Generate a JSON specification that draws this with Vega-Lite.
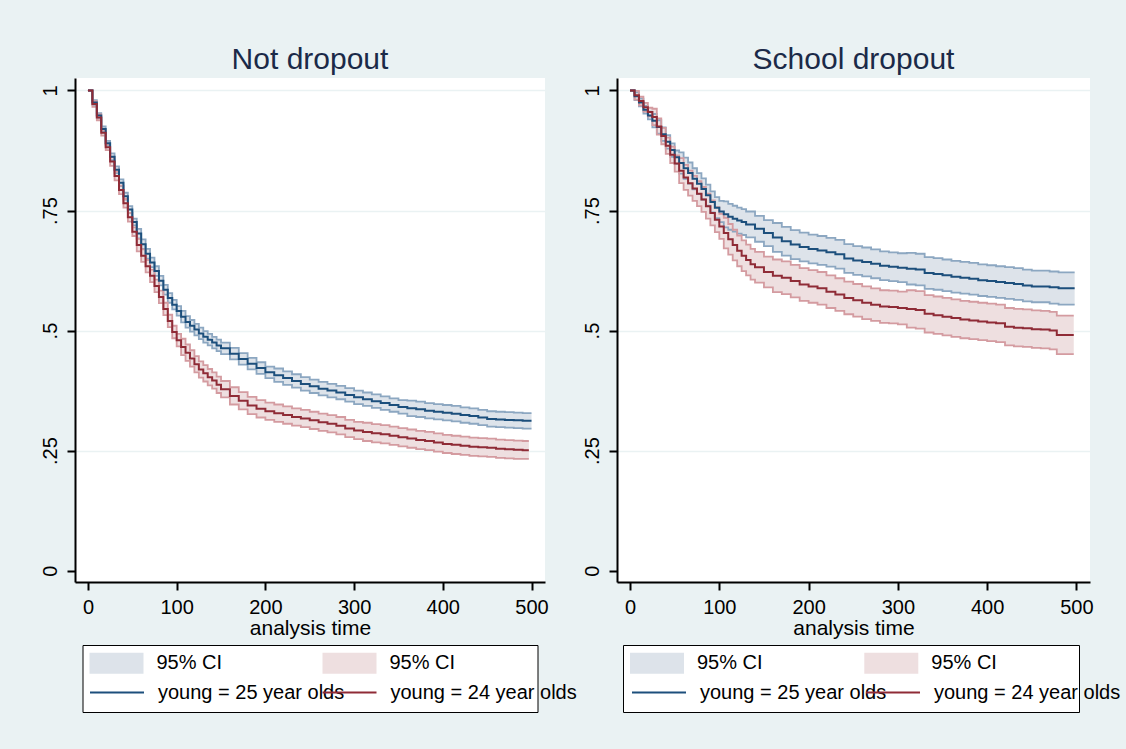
{
  "$schema": "https://vega.github.io/schema/vega-lite/v6.json",
  "background": "#eaf2f3",
  "padding": {"left": 40, "top": 45, "right": 6, "bottom": 37},
  "spacing": 72,
  "bounds": "flush",
  "datasets": {
    "nd25": [
      {"t":0,"s":1,"lo":1,"hi":1},{"t":5,"s":0.975,"lo":0.970,"hi":0.980},{"t":10,"s":0.948,"lo":0.943,"hi":0.953},{"t":15,"s":0.920,"lo":0.915,"hi":0.925},{"t":20,"s":0.890,"lo":0.885,"hi":0.895},
      {"t":25,"s":0.862,"lo":0.855,"hi":0.869},{"t":30,"s":0.835,"lo":0.828,"hi":0.842},{"t":35,"s":0.808,"lo":0.801,"hi":0.815},{"t":40,"s":0.780,"lo":0.773,"hi":0.787},{"t":45,"s":0.752,"lo":0.745,"hi":0.759},
      {"t":50,"s":0.726,"lo":0.719,"hi":0.733},{"t":55,"s":0.702,"lo":0.692,"hi":0.712},{"t":60,"s":0.680,"lo":0.670,"hi":0.690},{"t":65,"s":0.660,"lo":0.650,"hi":0.670},{"t":70,"s":0.642,"lo":0.632,"hi":0.652},
      {"t":75,"s":0.624,"lo":0.614,"hi":0.634},{"t":80,"s":0.604,"lo":0.594,"hi":0.614},{"t":85,"s":0.585,"lo":0.575,"hi":0.595},{"t":90,"s":0.568,"lo":0.558,"hi":0.578},{"t":95,"s":0.554,"lo":0.544,"hi":0.564},
      {"t":100,"s":0.541,"lo":0.531,"hi":0.551},{"t":105,"s":0.529,"lo":0.517,"hi":0.541},{"t":110,"s":0.518,"lo":0.506,"hi":0.530},{"t":115,"s":0.510,"lo":0.498,"hi":0.522},{"t":120,"s":0.502,"lo":0.490,"hi":0.514},
      {"t":125,"s":0.494,"lo":0.482,"hi":0.506},{"t":130,"s":0.487,"lo":0.475,"hi":0.499},{"t":135,"s":0.481,"lo":0.469,"hi":0.493},{"t":140,"s":0.475,"lo":0.463,"hi":0.487},{"t":145,"s":0.469,"lo":0.457,"hi":0.481},
      {"t":150,"s":0.463,"lo":0.451,"hi":0.475},{"t":160,"s":0.452,"lo":0.440,"hi":0.464},{"t":170,"s":0.441,"lo":0.429,"hi":0.453},{"t":180,"s":0.431,"lo":0.419,"hi":0.443},{"t":190,"s":0.422,"lo":0.410,"hi":0.434},
      {"t":200,"s":0.413,"lo":0.401,"hi":0.425},{"t":210,"s":0.407,"lo":0.393,"hi":0.421},{"t":220,"s":0.401,"lo":0.387,"hi":0.415},{"t":230,"s":0.395,"lo":0.381,"hi":0.409},{"t":240,"s":0.389,"lo":0.375,"hi":0.403},
      {"t":250,"s":0.384,"lo":0.370,"hi":0.398},{"t":260,"s":0.379,"lo":0.365,"hi":0.393},{"t":270,"s":0.375,"lo":0.361,"hi":0.389},{"t":280,"s":0.371,"lo":0.357,"hi":0.385},{"t":290,"s":0.366,"lo":0.352,"hi":0.380},
      {"t":300,"s":0.361,"lo":0.347,"hi":0.375},{"t":310,"s":0.357,"lo":0.343,"hi":0.371},{"t":320,"s":0.353,"lo":0.339,"hi":0.367},{"t":330,"s":0.349,"lo":0.335,"hi":0.363},{"t":340,"s":0.345,"lo":0.331,"hi":0.359},
      {"t":350,"s":0.341,"lo":0.327,"hi":0.355},{"t":360,"s":0.338,"lo":0.322,"hi":0.354},{"t":370,"s":0.336,"lo":0.320,"hi":0.352},{"t":380,"s":0.333,"lo":0.317,"hi":0.349},{"t":390,"s":0.331,"lo":0.315,"hi":0.347},
      {"t":400,"s":0.329,"lo":0.313,"hi":0.345},{"t":410,"s":0.327,"lo":0.311,"hi":0.343},{"t":420,"s":0.324,"lo":0.308,"hi":0.340},{"t":430,"s":0.322,"lo":0.306,"hi":0.338},{"t":440,"s":0.319,"lo":0.303,"hi":0.335},
      {"t":450,"s":0.316,"lo":0.300,"hi":0.332},{"t":460,"s":0.315,"lo":0.299,"hi":0.331},{"t":470,"s":0.314,"lo":0.298,"hi":0.330},{"t":480,"s":0.313,"lo":0.297,"hi":0.329},{"t":490,"s":0.312,"lo":0.296,"hi":0.328},
      {"t":500,"s":0.312,"lo":0.296,"hi":0.328}
    ],
    "nd24": [
      {"t":0,"s":1,"lo":1,"hi":1},{"t":5,"s":0.972,"lo":0.966,"hi":0.978},{"t":10,"s":0.944,"lo":0.938,"hi":0.950},{"t":15,"s":0.912,"lo":0.906,"hi":0.918},{"t":20,"s":0.882,"lo":0.876,"hi":0.888},
      {"t":25,"s":0.852,"lo":0.843,"hi":0.861},{"t":30,"s":0.822,"lo":0.813,"hi":0.831},{"t":35,"s":0.793,"lo":0.784,"hi":0.802},{"t":40,"s":0.765,"lo":0.756,"hi":0.774},{"t":45,"s":0.736,"lo":0.727,"hi":0.745},
      {"t":50,"s":0.706,"lo":0.697,"hi":0.715},{"t":55,"s":0.678,"lo":0.665,"hi":0.691},{"t":60,"s":0.656,"lo":0.643,"hi":0.669},{"t":65,"s":0.634,"lo":0.621,"hi":0.647},{"t":70,"s":0.614,"lo":0.601,"hi":0.627},
      {"t":75,"s":0.593,"lo":0.580,"hi":0.606},{"t":80,"s":0.570,"lo":0.557,"hi":0.583},{"t":85,"s":0.545,"lo":0.532,"hi":0.558},{"t":90,"s":0.520,"lo":0.507,"hi":0.533},{"t":95,"s":0.497,"lo":0.484,"hi":0.510},
      {"t":100,"s":0.480,"lo":0.467,"hi":0.493},{"t":105,"s":0.466,"lo":0.449,"hi":0.483},{"t":110,"s":0.454,"lo":0.437,"hi":0.471},{"t":115,"s":0.442,"lo":0.425,"hi":0.459},{"t":120,"s":0.430,"lo":0.413,"hi":0.447},
      {"t":125,"s":0.419,"lo":0.402,"hi":0.436},{"t":130,"s":0.411,"lo":0.394,"hi":0.428},{"t":135,"s":0.403,"lo":0.386,"hi":0.420},{"t":140,"s":0.396,"lo":0.379,"hi":0.413},{"t":145,"s":0.387,"lo":0.370,"hi":0.404},
      {"t":150,"s":0.378,"lo":0.361,"hi":0.395},{"t":160,"s":0.364,"lo":0.346,"hi":0.382},{"t":170,"s":0.354,"lo":0.336,"hi":0.372},{"t":180,"s":0.344,"lo":0.326,"hi":0.362},{"t":190,"s":0.337,"lo":0.319,"hi":0.355},
      {"t":200,"s":0.332,"lo":0.314,"hi":0.350},{"t":210,"s":0.328,"lo":0.310,"hi":0.346},{"t":220,"s":0.324,"lo":0.306,"hi":0.342},{"t":230,"s":0.320,"lo":0.302,"hi":0.338},{"t":240,"s":0.317,"lo":0.299,"hi":0.335},
      {"t":250,"s":0.313,"lo":0.295,"hi":0.331},{"t":260,"s":0.309,"lo":0.291,"hi":0.327},{"t":270,"s":0.306,"lo":0.288,"hi":0.324},{"t":280,"s":0.302,"lo":0.284,"hi":0.320},{"t":290,"s":0.296,"lo":0.278,"hi":0.314},
      {"t":300,"s":0.292,"lo":0.274,"hi":0.310},{"t":310,"s":0.289,"lo":0.270,"hi":0.308},{"t":320,"s":0.286,"lo":0.267,"hi":0.305},{"t":330,"s":0.284,"lo":0.265,"hi":0.303},{"t":340,"s":0.281,"lo":0.262,"hi":0.300},
      {"t":350,"s":0.278,"lo":0.259,"hi":0.297},{"t":360,"s":0.275,"lo":0.256,"hi":0.294},{"t":370,"s":0.272,"lo":0.253,"hi":0.291},{"t":380,"s":0.270,"lo":0.251,"hi":0.289},{"t":390,"s":0.267,"lo":0.248,"hi":0.286},
      {"t":400,"s":0.264,"lo":0.245,"hi":0.283},{"t":410,"s":0.262,"lo":0.243,"hi":0.281},{"t":420,"s":0.260,"lo":0.241,"hi":0.279},{"t":430,"s":0.258,"lo":0.239,"hi":0.277},{"t":440,"s":0.257,"lo":0.238,"hi":0.276},
      {"t":450,"s":0.256,"lo":0.237,"hi":0.275},{"t":460,"s":0.254,"lo":0.235,"hi":0.273},{"t":470,"s":0.253,"lo":0.234,"hi":0.272},{"t":480,"s":0.252,"lo":0.233,"hi":0.271},{"t":490,"s":0.251,"lo":0.233,"hi":0.270},
      {"t":497,"s":0.251,"lo":0.233,"hi":0.270}
    ],
    "sd25": [
      {"t":0,"s":1,"lo":1,"hi":1},{"t":5,"s":0.988,"lo":0.980,"hi":0.996},{"t":10,"s":0.975,"lo":0.967,"hi":0.983},{"t":15,"s":0.960,"lo":0.952,"hi":0.968},{"t":20,"s":0.948,"lo":0.940,"hi":0.956},
      {"t":25,"s":0.937,"lo":0.923,"hi":0.951},{"t":30,"s":0.924,"lo":0.910,"hi":0.938},{"t":35,"s":0.909,"lo":0.895,"hi":0.923},{"t":40,"s":0.893,"lo":0.879,"hi":0.907},{"t":45,"s":0.876,"lo":0.862,"hi":0.890},
      {"t":50,"s":0.861,"lo":0.847,"hi":0.875},{"t":55,"s":0.849,"lo":0.827,"hi":0.871},{"t":60,"s":0.838,"lo":0.816,"hi":0.860},{"t":65,"s":0.828,"lo":0.806,"hi":0.850},{"t":70,"s":0.816,"lo":0.794,"hi":0.838},
      {"t":75,"s":0.806,"lo":0.784,"hi":0.828},{"t":80,"s":0.795,"lo":0.773,"hi":0.817},{"t":85,"s":0.782,"lo":0.760,"hi":0.804},{"t":90,"s":0.768,"lo":0.746,"hi":0.790},{"t":95,"s":0.756,"lo":0.734,"hi":0.778},
      {"t":100,"s":0.748,"lo":0.726,"hi":0.770},{"t":105,"s":0.742,"lo":0.715,"hi":0.769},{"t":110,"s":0.737,"lo":0.710,"hi":0.764},{"t":115,"s":0.733,"lo":0.706,"hi":0.760},{"t":120,"s":0.729,"lo":0.702,"hi":0.756},
      {"t":125,"s":0.726,"lo":0.699,"hi":0.753},{"t":130,"s":0.721,"lo":0.694,"hi":0.748},{"t":140,"s":0.712,"lo":0.685,"hi":0.739},{"t":150,"s":0.703,"lo":0.676,"hi":0.730},{"t":160,"s":0.694,"lo":0.664,"hi":0.724},
      {"t":170,"s":0.686,"lo":0.656,"hi":0.716},{"t":180,"s":0.679,"lo":0.649,"hi":0.709},{"t":190,"s":0.674,"lo":0.644,"hi":0.704},{"t":200,"s":0.670,"lo":0.640,"hi":0.700},{"t":210,"s":0.667,"lo":0.637,"hi":0.697},
      {"t":220,"s":0.663,"lo":0.633,"hi":0.693},{"t":230,"s":0.659,"lo":0.629,"hi":0.689},{"t":240,"s":0.650,"lo":0.620,"hi":0.680},{"t":250,"s":0.646,"lo":0.616,"hi":0.676},{"t":260,"s":0.643,"lo":0.613,"hi":0.673},
      {"t":270,"s":0.639,"lo":0.609,"hi":0.669},{"t":280,"s":0.635,"lo":0.605,"hi":0.665},{"t":290,"s":0.633,"lo":0.603,"hi":0.663},{"t":300,"s":0.631,"lo":0.601,"hi":0.661},{"t":310,"s":0.629,"lo":0.596,"hi":0.662},
      {"t":320,"s":0.627,"lo":0.594,"hi":0.660},{"t":330,"s":0.620,"lo":0.587,"hi":0.653},{"t":340,"s":0.618,"lo":0.585,"hi":0.651},{"t":350,"s":0.615,"lo":0.582,"hi":0.648},{"t":360,"s":0.612,"lo":0.579,"hi":0.645},
      {"t":370,"s":0.610,"lo":0.577,"hi":0.643},{"t":380,"s":0.608,"lo":0.575,"hi":0.641},{"t":390,"s":0.605,"lo":0.572,"hi":0.638},{"t":400,"s":0.603,"lo":0.570,"hi":0.636},{"t":410,"s":0.601,"lo":0.568,"hi":0.634},
      {"t":420,"s":0.599,"lo":0.566,"hi":0.632},{"t":430,"s":0.597,"lo":0.564,"hi":0.630},{"t":440,"s":0.594,"lo":0.561,"hi":0.627},{"t":450,"s":0.592,"lo":0.559,"hi":0.625},{"t":460,"s":0.592,"lo":0.559,"hi":0.625},
      {"t":470,"s":0.590,"lo":0.556,"hi":0.623},{"t":480,"s":0.588,"lo":0.554,"hi":0.621},{"t":498,"s":0.588,"lo":0.554,"hi":0.621}
    ],
    "sd24": [
      {"t":0,"s":1,"lo":1,"hi":1},{"t":5,"s":0.990,"lo":0.981,"hi":0.999},{"t":10,"s":0.978,"lo":0.969,"hi":0.987},{"t":15,"s":0.965,"lo":0.956,"hi":0.974},{"t":20,"s":0.955,"lo":0.946,"hi":0.964},
      {"t":25,"s":0.945,"lo":0.928,"hi":0.962},{"t":30,"s":0.925,"lo":0.908,"hi":0.942},{"t":35,"s":0.905,"lo":0.888,"hi":0.922},{"t":40,"s":0.885,"lo":0.868,"hi":0.902},{"t":45,"s":0.866,"lo":0.849,"hi":0.883},
      {"t":50,"s":0.848,"lo":0.831,"hi":0.865},{"t":55,"s":0.833,"lo":0.807,"hi":0.859},{"t":60,"s":0.819,"lo":0.793,"hi":0.845},{"t":65,"s":0.807,"lo":0.781,"hi":0.833},{"t":70,"s":0.796,"lo":0.770,"hi":0.822},
      {"t":75,"s":0.785,"lo":0.759,"hi":0.811},{"t":80,"s":0.773,"lo":0.747,"hi":0.799},{"t":85,"s":0.759,"lo":0.733,"hi":0.785},{"t":90,"s":0.745,"lo":0.719,"hi":0.771},{"t":95,"s":0.731,"lo":0.705,"hi":0.757},
      {"t":100,"s":0.717,"lo":0.691,"hi":0.743},{"t":105,"s":0.703,"lo":0.671,"hi":0.735},{"t":110,"s":0.690,"lo":0.658,"hi":0.722},{"t":115,"s":0.678,"lo":0.646,"hi":0.710},{"t":120,"s":0.666,"lo":0.634,"hi":0.698},
      {"t":125,"s":0.656,"lo":0.624,"hi":0.688},{"t":130,"s":0.647,"lo":0.615,"hi":0.679},{"t":135,"s":0.638,"lo":0.606,"hi":0.670},{"t":140,"s":0.632,"lo":0.600,"hi":0.664},{"t":150,"s":0.622,"lo":0.590,"hi":0.654},
      {"t":160,"s":0.614,"lo":0.580,"hi":0.648},{"t":170,"s":0.610,"lo":0.576,"hi":0.644},{"t":180,"s":0.603,"lo":0.569,"hi":0.637},{"t":190,"s":0.596,"lo":0.562,"hi":0.630},{"t":200,"s":0.592,"lo":0.558,"hi":0.626},
      {"t":210,"s":0.588,"lo":0.554,"hi":0.622},{"t":220,"s":0.581,"lo":0.547,"hi":0.615},{"t":230,"s":0.575,"lo":0.541,"hi":0.609},{"t":240,"s":0.568,"lo":0.534,"hi":0.602},{"t":250,"s":0.563,"lo":0.529,"hi":0.597},
      {"t":260,"s":0.558,"lo":0.524,"hi":0.592},{"t":270,"s":0.554,"lo":0.520,"hi":0.588},{"t":280,"s":0.550,"lo":0.516,"hi":0.584},{"t":290,"s":0.549,"lo":0.515,"hi":0.583},{"t":300,"s":0.547,"lo":0.513,"hi":0.581},
      {"t":310,"s":0.545,"lo":0.506,"hi":0.584},{"t":320,"s":0.543,"lo":0.504,"hi":0.582},{"t":330,"s":0.535,"lo":0.496,"hi":0.574},{"t":340,"s":0.532,"lo":0.493,"hi":0.571},{"t":350,"s":0.529,"lo":0.490,"hi":0.568},
      {"t":360,"s":0.526,"lo":0.487,"hi":0.565},{"t":370,"s":0.523,"lo":0.484,"hi":0.562},{"t":380,"s":0.521,"lo":0.482,"hi":0.560},{"t":390,"s":0.519,"lo":0.480,"hi":0.558},{"t":400,"s":0.517,"lo":0.478,"hi":0.556},
      {"t":410,"s":0.515,"lo":0.476,"hi":0.554},{"t":420,"s":0.508,"lo":0.469,"hi":0.547},{"t":430,"s":0.506,"lo":0.467,"hi":0.545},{"t":440,"s":0.505,"lo":0.466,"hi":0.544},{"t":450,"s":0.503,"lo":0.464,"hi":0.542},
      {"t":460,"s":0.502,"lo":0.463,"hi":0.541},{"t":470,"s":0.500,"lo":0.461,"hi":0.539},{"t":478,"s":0.491,"lo":0.451,"hi":0.531},{"t":497,"s":0.491,"lo":0.451,"hi":0.531}
    ]
  },
  "hconcat": [
    {
      "width": 470, "height": 504,
      "title": {"text": "Not dropout"},
      "encoding": {
        "x": {"field": "t", "type": "quantitative", "scale": {"domain": [-14.6, 515.2], "nice": false, "zero": false},
              "axis": {"values": [0, 100, 200, 300, 400, 500], "title": "analysis time", "grid": false}}
      },
      "layer": [
        {"data": {"name": "nd25"}, "mark": {"type": "area", "interpolate": "step-after", "opacity": 1},
         "encoding": {"y": {"field": "lo", "type": "quantitative", "title": null, "scale": {"domain": [-0.0236, 1.026], "nice": false, "zero": false}},
                      "y2": {"field": "hi"},
                      "fill": {"datum": "ci25", "type": "nominal",
                               "scale": {"domain": ["ci25", "ci24"], "range": ["#dde3ea", "#eedfe0"]},
                               "legend": {"orient": "none", "legendX": 7.5, "legendY": 567, "columns": 2, "direction": "horizontal",
                                          "title": "\u00a0", "titleOrient": "bottom", "titleFontSize": 20, "titlePadding": 10, "titleLimit": 2000,
                                          "labelExpr": "'95% CI'", "labelFontSize": 20, "labelLimit": 1000,
                                          "symbolType": "M-2.7,-1.05H2.7V1.05H-2.7Z M17.95,0", "symbolSize": 400, "symbolStrokeWidth": 0,
                                          "symbolOffset": 16, "labelOffset": 30, "columnPadding": 26,
                                          "strokeColor": "black", "fillColor": "white", "padding": 8, "zindex": 0,
                                          "encode": {"legend": {"strokeWidth": {"value": 2}}}}}}},
        {"data": {"name": "nd24"}, "mark": {"type": "area", "interpolate": "step-after", "opacity": 1},
         "encoding": {"y": {"field": "lo", "type": "quantitative", "title": null}, "y2": {"field": "hi"}, "fill": {"datum": "ci24", "type": "nominal"}}},
        {"data": {"name": "nd25"}, "mark": {"type": "line", "interpolate": "step-after", "color": "#8ca7c1", "strokeWidth": 1.8},
         "encoding": {"y": {"field": "lo", "type": "quantitative", "title": null}}},
        {"data": {"name": "nd25"}, "mark": {"type": "line", "interpolate": "step-after", "color": "#8ca7c1", "strokeWidth": 1.8},
         "encoding": {"y": {"field": "hi", "type": "quantitative", "title": null}}},
        {"data": {"name": "nd24"}, "mark": {"type": "line", "interpolate": "step-after", "color": "#d49ba0", "strokeWidth": 1.8},
         "encoding": {"y": {"field": "lo", "type": "quantitative", "title": null}}},
        {"data": {"name": "nd24"}, "mark": {"type": "line", "interpolate": "step-after", "color": "#d49ba0", "strokeWidth": 1.8},
         "encoding": {"y": {"field": "hi", "type": "quantitative", "title": null}}},
        {"data": {"name": "nd25"}, "mark": {"type": "line", "interpolate": "step-after", "strokeWidth": 2},
         "encoding": {"y": {"field": "s", "type": "quantitative", "title": null,
                            "axis": {"values": [0, 0.25, 0.5, 0.75, 1], "title": null, "labelAngle": -90, "grid": true,
                                     "labelExpr": "datum.value == 0 ? '0' : datum.value == 0.25 ? '.25' : datum.value == 0.5 ? '.5' : datum.value == 0.75 ? '.75' : '1'",
                                     "gridOpacity": {"condition": {"test": "datum.value == 0", "value": 0}, "value": 1}}},
                      "stroke": {"datum": "l25", "type": "nominal",
                                 "scale": {"domain": ["l25"], "range": ["#1c4f7c"]},
                                 "legend": {"orient": "none", "legendX": 15, "legendY": 603.5, "title": null,
                                            "labelExpr": "'young = 25 year olds'", "labelFontSize": 20, "labelLimit": 1000,
                                            "symbolType": "M-2.7,0H2.7", "symbolSize": 400, "symbolStrokeWidth": 2,
                                            "symbolOffset": 16, "labelOffset": 30,
                                            "strokeColor": "transparent", "fillColor": "transparent", "padding": 0, "zindex": 1}}}},
        {"data": {"name": "nd24"}, "mark": {"type": "line", "interpolate": "step-after", "strokeWidth": 2},
         "encoding": {"y": {"field": "s", "type": "quantitative", "title": null},
                      "color": {"datum": "l24", "type": "nominal",
                                "scale": {"domain": ["l24"], "range": ["#8f2b36"]},
                                "legend": {"orient": "none", "legendX": 247.5, "legendY": 603.5, "title": null,
                                           "labelExpr": "'young = 24 year olds'", "labelFontSize": 20, "labelLimit": 1000,
                                           "symbolType": "M-2.7,0H2.7", "symbolSize": 400, "symbolStrokeWidth": 2,
                                           "symbolOffset": 16, "labelOffset": 30,
                                           "strokeColor": "transparent", "fillColor": "transparent", "padding": 0, "zindex": 2}}}}
      ]
    },
    {
      "width": 473, "height": 504,
      "title": {"text": "School dropout"},
      "encoding": {
        "x": {"field": "t", "type": "quantitative", "scale": {"domain": [-14.6, 515.2], "nice": false, "zero": false},
              "axis": {"values": [0, 100, 200, 300, 400, 500], "title": "analysis time", "grid": false}}
      },
      "layer": [
        {"data": {"name": "sd25"}, "mark": {"type": "area", "interpolate": "step-after", "opacity": 1},
         "encoding": {"y": {"field": "lo", "type": "quantitative", "title": null, "scale": {"domain": [-0.0236, 1.026], "nice": false, "zero": false}},
                      "y2": {"field": "hi"},
                      "fill": {"datum": "ci25", "type": "nominal",
                               "scale": {"domain": ["ci25", "ci24"], "range": ["#dde3ea", "#eedfe0"]},
                               "legend": {"orient": "none", "legendX": 6, "legendY": 567, "columns": 2, "direction": "horizontal",
                                          "title": "\u00a0", "titleOrient": "bottom", "titleFontSize": 20, "titlePadding": 10, "titleLimit": 2000,
                                          "labelExpr": "'95% CI'", "labelFontSize": 20, "labelLimit": 1000,
                                          "symbolType": "M-2.7,-1.05H2.7V1.05H-2.7Z M17.95,0", "symbolSize": 400, "symbolStrokeWidth": 0,
                                          "symbolOffset": 16, "labelOffset": 30, "columnPadding": 27.3,
                                          "strokeColor": "black", "fillColor": "white", "padding": 8, "zindex": 0,
                                          "encode": {"legend": {"strokeWidth": {"value": 2}}}}}}},
        {"data": {"name": "sd24"}, "mark": {"type": "area", "interpolate": "step-after", "opacity": 1},
         "encoding": {"y": {"field": "lo", "type": "quantitative", "title": null}, "y2": {"field": "hi"}, "fill": {"datum": "ci24", "type": "nominal"}}},
        {"data": {"name": "sd25"}, "mark": {"type": "line", "interpolate": "step-after", "color": "#8ca7c1", "strokeWidth": 1.8},
         "encoding": {"y": {"field": "lo", "type": "quantitative", "title": null}}},
        {"data": {"name": "sd25"}, "mark": {"type": "line", "interpolate": "step-after", "color": "#8ca7c1", "strokeWidth": 1.8},
         "encoding": {"y": {"field": "hi", "type": "quantitative", "title": null}}},
        {"data": {"name": "sd24"}, "mark": {"type": "line", "interpolate": "step-after", "color": "#d49ba0", "strokeWidth": 1.8},
         "encoding": {"y": {"field": "lo", "type": "quantitative", "title": null}}},
        {"data": {"name": "sd24"}, "mark": {"type": "line", "interpolate": "step-after", "color": "#d49ba0", "strokeWidth": 1.8},
         "encoding": {"y": {"field": "hi", "type": "quantitative", "title": null}}},
        {"data": {"name": "sd25"}, "mark": {"type": "line", "interpolate": "step-after", "strokeWidth": 2},
         "encoding": {"y": {"field": "s", "type": "quantitative", "title": null,
                            "axis": {"values": [0, 0.25, 0.5, 0.75, 1], "title": null, "labelAngle": -90, "grid": true,
                                     "labelExpr": "datum.value == 0 ? '0' : datum.value == 0.25 ? '.25' : datum.value == 0.5 ? '.5' : datum.value == 0.75 ? '.75' : '1'",
                                     "gridOpacity": {"condition": {"test": "datum.value == 0", "value": 0}, "value": 1}}},
                      "stroke": {"datum": "l25", "type": "nominal",
                                 "scale": {"domain": ["l25"], "range": ["#1c4f7c"]},
                                 "legend": {"orient": "none", "legendX": 15, "legendY": 603.5, "title": null,
                                            "labelExpr": "'young = 25 year olds'", "labelFontSize": 20, "labelLimit": 1000,
                                            "symbolType": "M-2.7,0H2.7", "symbolSize": 400, "symbolStrokeWidth": 2,
                                            "symbolOffset": 16, "labelOffset": 30,
                                            "strokeColor": "transparent", "fillColor": "transparent", "padding": 0, "zindex": 1}}}},
        {"data": {"name": "sd24"}, "mark": {"type": "line", "interpolate": "step-after", "strokeWidth": 2},
         "encoding": {"y": {"field": "s", "type": "quantitative", "title": null},
                      "color": {"datum": "l24", "type": "nominal",
                                "scale": {"domain": ["l24"], "range": ["#8f2b36"]},
                                "legend": {"orient": "none", "legendX": 249, "legendY": 603.5, "title": null,
                                           "labelExpr": "'young = 24 year olds'", "labelFontSize": 20, "labelLimit": 1000,
                                           "symbolType": "M-2.7,0H2.7", "symbolSize": 400, "symbolStrokeWidth": 2,
                                           "symbolOffset": 16, "labelOffset": 30,
                                           "strokeColor": "transparent", "fillColor": "transparent", "padding": 0, "zindex": 2}}}}
      ]
    }
  ],
  "resolve": {"scale": {"fill": "independent", "stroke": "independent", "color": "independent"},
              "legend": {"fill": "independent", "stroke": "independent", "color": "independent"}},
  "config": {
    "font": "Liberation Sans",
    "view": {"fill": "white", "stroke": null},
    "axis": {"domainColor": "black", "domainWidth": 2, "tickColor": "black", "tickWidth": 2, "tickSize": 8,
             "labelFont": "Liberation Sans", "labelFontSize": 20, "labelColor": "black",
             "titleFont": "Liberation Sans", "titleFontSize": 21, "titleFontWeight": "normal", "titleColor": "black",
             "gridColor": "#eaf2f3", "gridWidth": 1.5},
    "axisX": {"labelPadding": 7, "titlePadding": 0},
    "axisY": {"labelPadding": 7},
    "title": {"font": "Liberation Sans", "fontSize": 30, "fontWeight": "normal", "color": "#1b2a48", "offset": 3},
    "legend": {"labelFont": "Liberation Sans", "labelColor": "black", "titleFont": "Liberation Sans", "cornerRadius": 0}
  }
}
